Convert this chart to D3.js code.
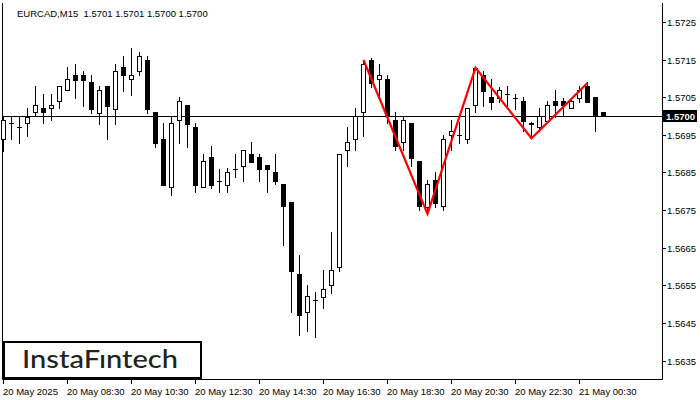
<!DOCTYPE html>
<html><head><meta charset="utf-8">
<script src="https://cdn.jsdelivr.net/npm/d3@7"></script>
<style>html,body{margin:0;padding:0;background:#fff;}svg{display:block;}</style>
</head><body>
<svg id="c" width="700" height="400"></svg>
<script>
const symbolTitle = "EURCAD,M15  1.5701 1.5701 1.5700 1.5700";
const opens = [
1.56939,1.56981,1.56970,1.56981,1.57010,1.57021,1.57021,1.57039,1.57069,1.57109,
1.57109,1.57091,1.57009,1.57079,1.57020,1.57130,1.57098,1.57119,1.57149,1.57011,
1.56939,1.56811,1.56989,1.57029,1.56970,1.56811,1.56891,1.56828,1.56818,1.56859,
1.56868,1.56899,1.56891,1.56869,1.56851,1.56819,1.56771,1.56580,1.56480,1.56511,
1.56520,1.56550,1.56600,1.56909,1.56938,1.57010,1.57149,1.57098,1.57098,1.56989,
1.56930,1.56981,1.56880,1.56759,1.56829,1.56760,1.56949,1.56949,1.56938,1.57029,
1.57109,1.57051,1.57049,1.57058,1.57049,1.57040,1.56979,1.56970,1.56988,1.57039,
1.57039,1.57021,1.57049,1.57080,1.57051,1.5701];
const highs = [
1.57000,1.56998,1.56998,1.57021,1.57080,1.57059,1.57059,1.57079,1.57130,1.57138,
1.57119,1.57109,1.57079,1.57079,1.57138,1.57160,1.57181,1.57170,1.57160,1.57011,
1.56982,1.56999,1.57050,1.57029,1.56982,1.56899,1.56921,1.56860,1.56861,1.56899,
1.56910,1.56931,1.56899,1.56869,1.56899,1.56819,1.56771,1.56631,1.56551,1.56532,
1.56591,1.56692,1.56899,1.56971,1.57021,1.57149,1.57153,1.57138,1.57108,1.57010,
1.56999,1.56981,1.56880,1.56829,1.56851,1.56949,1.56990,1.56984,1.57021,1.57127,
1.57120,1.57099,1.57077,1.57079,1.57058,1.57051,1.56984,1.57021,1.57039,1.57070,
1.57049,1.57049,1.57081,1.57090,1.57051,1.5701];
const lows = [
1.56907,1.56938,1.56929,1.56947,1.56999,1.56981,1.56989,1.57021,1.57069,1.57049,
1.57028,1.57009,1.56980,1.56938,1.56980,1.57067,1.57057,1.57108,1.57009,1.56919,
1.56818,1.56790,1.56929,1.56919,1.56798,1.56811,1.56809,1.56798,1.56798,1.56838,
1.56828,1.56879,1.56828,1.56799,1.56819,1.56658,1.56480,1.56418,1.56429,1.56412,
1.56491,1.56531,1.56589,1.56868,1.56909,1.56948,1.57078,1.57054,1.56981,1.56910,
1.56909,1.56868,1.56750,1.56750,1.56759,1.56750,1.56909,1.56928,1.56928,1.57010,
1.57028,1.57019,1.57037,1.57028,1.57019,1.56960,1.56942,1.56960,1.56988,1.56998,
1.56999,1.57021,1.57038,1.57038,1.56959,1.5700];
const closes = [
1.56990,1.56981,1.56970,1.56998,1.57029,1.57010,1.57029,1.57079,1.57098,1.57097,
1.57097,1.57020,1.57069,1.57028,1.57119,1.57108,1.57108,1.57160,1.57020,1.56929,
1.56818,1.56982,1.57039,1.56980,1.56818,1.56880,1.56818,1.56828,1.56851,1.56859,
1.56910,1.56879,1.56858,1.56858,1.56828,1.56760,1.56589,1.56470,1.56521,1.56511,
1.56540,1.56591,1.56899,1.56930,1.56999,1.57138,1.57089,1.57108,1.56999,1.56920,
1.56989,1.56889,1.56760,1.56819,1.56770,1.56938,1.56960,1.56949,1.57021,1.57127,
1.57067,1.57038,1.57069,1.57058,1.57049,1.56988,1.56981,1.56999,1.57029,1.57029,
1.57029,1.57039,1.57070,1.57038,1.56999,1.5700];
const xTickIdx = [0,8,16,24,32,40,48,56,64,72];
const xTickLabels = ["20 May 2025","20 May 08:30","20 May 10:30","20 May 12:30","20 May 14:30","20 May 16:30","20 May 18:30","20 May 20:30","20 May 22:30","21 May 00:30"];
const yTicks = [1.5635,1.5645,1.5655,1.5665,1.5675,1.5685,1.5695,1.5705,1.5715,1.5725];
const currentPrice = 1.5700;
const patternIdx = [45,53,59,66,73];
const patternPrice = [1.57149,1.56740,1.57128,1.56941,1.57088];
const brand = "InstaFıntech";

const svg = d3.select("#c");
const L = 2, R = 662, T = 3, B = 379;
const x = d3.scaleLinear().domain([0, 75]).range([3, 603]);
const y = d3.scaleLinear().domain([1.5635, 1.5725]).range([360.6, 22]);
const font = "'Liberation Sans', Arial, sans-serif";

// frame
svg.append("path").attr("d", `M${L+0.5},${T} V${B+0.5} H${R+0.5} V${T}`)
  .attr("fill","none").attr("stroke","#000").attr("stroke-width",1);

// current price line
svg.append("line").attr("x1",L).attr("x2",R+4)
  .attr("y1",Math.round(y(currentPrice))+0.5).attr("y2",Math.round(y(currentPrice))+0.5)
  .attr("stroke","#000").attr("stroke-width",1);

// candles
const data = opens.map((o,i)=>({i,o,h:highs[i],l:lows[i],c:closes[i]}));
const g = svg.append("g").attr("shape-rendering","crispEdges");
data.forEach(d=>{
  const cx = Math.round(x(d.i));
  g.append("line").attr("x1",cx+0.5).attr("x2",cx+0.5)
    .attr("y1",Math.round(y(d.h))).attr("y2",Math.round(y(d.l))+1)
    .attr("stroke","#000");
  const yo = Math.round(y(d.o)), yc = Math.round(y(d.c));
  const top = Math.min(yo,yc), bot = Math.max(yo,yc);
  if (bot - top < 1) {
    g.append("line").attr("x1",cx-2).attr("x2",cx+3).attr("y1",top+0.5).attr("y2",top+0.5).attr("stroke","#000");
  } else if (d.c > d.o) {
    g.append("rect").attr("x",cx-1.5).attr("y",top+0.5).attr("width",4).attr("height",bot-top)
      .attr("fill","#fff").attr("stroke","#000");
  } else {
    g.append("rect").attr("x",cx-2).attr("y",top).attr("width",5).attr("height",bot-top+1)
      .attr("fill","#000");
  }
});

// pattern line
const line = d3.line().x((d,i)=>x(patternIdx[i])+0.5).y(d=>y(d));
svg.append("path").attr("d", line(patternPrice)).attr("fill","none")
  .attr("stroke","#ff0000").attr("stroke-width",2.2).attr("stroke-linejoin","miter");

// y axis
const ya = svg.append("g");
yTicks.forEach(v=>{
  const yy = Math.round(y(v))+0.5;
  ya.append("line").attr("x1",R).attr("x2",R+4).attr("y1",yy).attr("y2",yy).attr("stroke","#000");
  ya.append("text").attr("x",667).attr("y",yy+3.4).attr("font-family",font).attr("font-size","9.5px")
    .attr("fill","#000").text(v.toFixed(4));
});
const cy = Math.round(y(currentPrice));
svg.append("rect").attr("x",663).attr("y",cy-6).attr("width",34).attr("height",12).attr("fill","#000");
svg.append("text").attr("x",666).attr("y",cy+3.5).attr("font-family",font).attr("font-size","9.5px")
  .attr("font-weight","bold").attr("fill","#fff").text(currentPrice.toFixed(4));

// x axis
xTickIdx.forEach((k,j)=>{
  const xx = Math.round(x(k))+0.5;
  svg.append("line").attr("x1",xx).attr("x2",xx).attr("y1",B).attr("y2",B+5).attr("stroke","#000");
  svg.append("text").attr("x",Math.round(x(k))).attr("y",395).attr("font-family",font).attr("font-size","9.5px")
    .attr("fill","#000").text(xTickLabels[j]);
});

// header
svg.append("text").attr("x",17).attr("y",17).attr("font-family",font).attr("font-size","9.5px")
  .attr("fill","#000").attr("xml:space","preserve").style("white-space","pre").text(symbolTitle);

// brand box
svg.append("rect").attr("x",4).attr("y",342).attr("width",197).attr("height",36)
  .attr("fill","#fff").attr("stroke","#000").attr("stroke-width",2);
svg.append("text").attr("x",22).attr("y",368).attr("font-family","Lato, 'Open Sans', sans-serif")
  .attr("font-size","25px").attr("font-weight","500").attr("fill","#222")
  .attr("textLength",156).attr("lengthAdjust","spacingAndGlyphs").text(brand);
</script>
</body></html>
